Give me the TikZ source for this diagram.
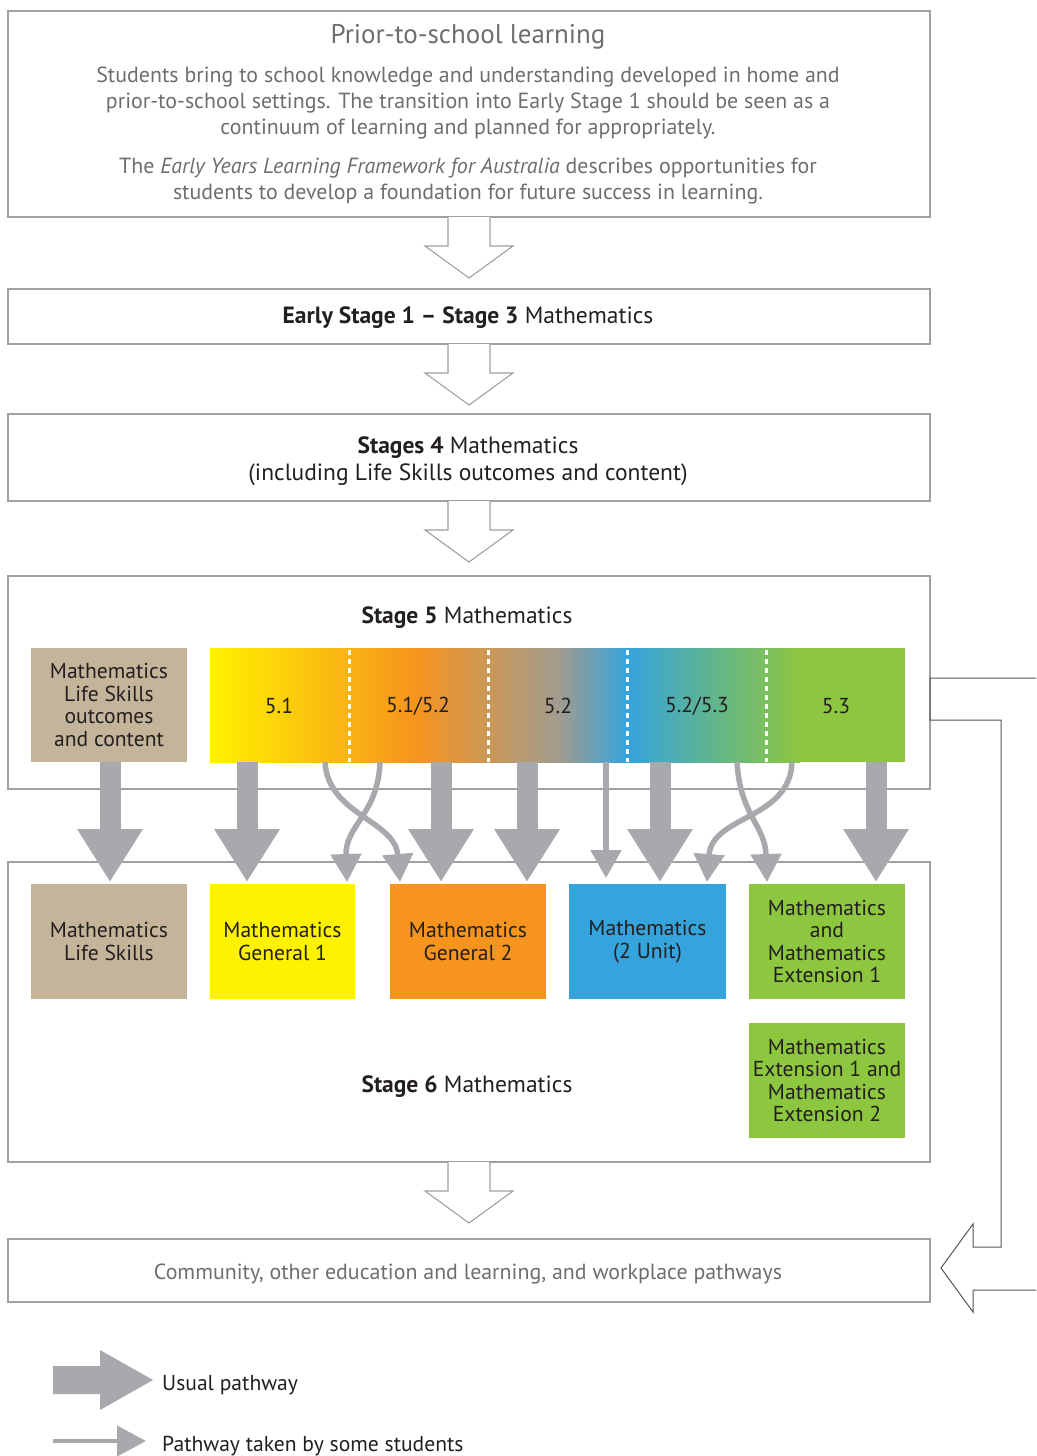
\documentclass[tikz,border=0pt]{standalone}
\usepackage{fontspec}
\setmainfont{PT Sans}
\usetikzlibrary{arrows.meta,calc}
\definecolor{frameGray}{HTML}{A0A0A0}
\definecolor{arrGray}{HTML}{A7A9AC}
\definecolor{txtBlack}{HTML}{231F20}
\definecolor{txtGray}{HTML}{6D6E71}
\definecolor{cTan}{HTML}{C4B59A}
\definecolor{cYellow}{HTML}{FFF200}
\definecolor{cOrange}{HTML}{F7941D}
\definecolor{cMid}{HTML}{A09C90}
\definecolor{cBlue}{HTML}{35A4DC}
\definecolor{cGreen}{HTML}{8DC63F}
\definecolor{outlineDark}{HTML}{555555}
\newcommand\tilefont{\fontsize{21.6}{22.5}\selectfont}
\newcommand\headfont{\fontsize{23.5}{27}\selectfont}
\tikzset{
  frame/.style={draw=frameGray, line width=1.2pt, fill=white, inner sep=0pt, outer sep=0pt, anchor=north west, minimum width=922pt},
  tile/.style={inner sep=0pt, outer sep=0pt, anchor=north west, align=center, font=\tilefont, text=txtBlack},
  lbl/.style={inner sep=0pt, align=center, text=txtBlack},
  big/.style={draw=arrGray, line width=21pt, -{Triangle[width=62pt,length=53pt]}},
  thinarr/.style={draw=arrGray, line width=5.5pt, -{Triangle[width=30pt,length=28pt]}},
  hollow/.style={draw=frameGray, fill=white, line width=1.1pt, line join=miter},
  divider/.style={draw=white, line width=3pt, dash pattern=on 5pt off 4pt},
  hollowdown/.pic={\draw[hollow] (-21,0) -- (-21,29) -- (-44,29) -- (0,61) -- (44,29) -- (21,29) -- (21,0);}
}
\begin{document}
\begin{tikzpicture}[x=1pt,y=-1pt]
\useasboundingbox (0,0) rectangle (1036,1456);

% ---------- frames ----------
\node[frame, minimum height=206pt] (prior) at (8,11) {};
\node[frame, minimum height=55pt]  (early) at (8,289) {};
\node[frame, minimum height=87pt]  (sfour) at (8,414) {};
\node[frame, minimum height=213pt] (sfive) at (8,576) {};
\node[frame, minimum height=300pt] (ssix)  at (8,862) {};
\node[frame, minimum height=63pt]  (comm)  at (8,1239) {};

% ---------- texts in frames ----------
\node[lbl, text=txtGray, font=\fontsize{27}{30}\selectfont] (priorT) at (468,37) {Prior-to-school learning};
\node[lbl, text=txtGray, font=\fontsize{21.9}{26}\selectfont] (priorA) at (468,103)
 {Students bring to school knowledge and understanding developed in home and\\
  prior-to-school settings. The transition into Early Stage 1 should be seen as a\\
  continuum of learning and planned for appropriately.};
\node[lbl, text=txtGray, font=\fontsize{21.9}{26}\selectfont] (priorB) at (468,181)
 {The \textit{Early Years Learning Framework for Australia} describes opportunities for\\
  students to develop a foundation for future success in learning.};
\node[lbl, font=\headfont] (earlyT) at (468,318) {\textbf{Early Stage 1 – Stage 3} Mathematics};
\node[lbl, font=\headfont] (sfourT) at (468,461) {\textbf{Stages 4} Mathematics\\(including Life Skills outcomes and content)};
\node[lbl, font=\headfont] (sfiveT) at (467,618) {\textbf{Stage 5} Mathematics};
\node[lbl, font=\headfont] (ssixT) at (467,1087) {\textbf{Stage 6} Mathematics};
\node[lbl, text=txtGray, font=\fontsize{21.9}{24}\selectfont] (commT) at (468,1274) {Community, other education and learning, and workplace pathways};

% ---------- hollow arrows ----------
\pic at (prior.south) {hollowdown};
\pic at (early.south) {hollowdown};
\pic at (sfour.south) {hollowdown};
\pic at (ssix.south) {hollowdown};

% ---------- Stage 5 tiles ----------
\node[tile, fill=cTan, minimum width=156pt, minimum height=114pt] (lsfive) at (31,648)
 {Mathematics\\Life Skills\\outcomes\\and content};
\shade[left color=cYellow, right color=cOrange] (210,648) rectangle (415,762);
\shade[left color=cOrange, right color=cMid] (414.5,648) rectangle (560,762);
\shade[left color=cMid, right color=cBlue] (559.5,648) rectangle (627,762);
\shade[left color=cBlue, right color=cGreen] (626.5,648) rectangle (800,762);
\fill[cGreen] (799.5,648) rectangle (905,762);
\node[tile, minimum width=695pt, minimum height=114pt] (bar) at (210,648) {};
\draw[divider] (349,650) -- (349,762);
\draw[divider] (488,650) -- (488,762);
\draw[divider] (627,650) -- (627,762);
\draw[divider] (766,650) -- (766,762);
\node[lbl, font=\tilefont] (segA) at (279,706) {5.1};
\node[lbl, font=\tilefont] (segB) at (418,706) {5.1/5.2};
\node[lbl, font=\tilefont] (segC) at (558,706) {5.2};
\node[lbl, font=\tilefont] (segD) at (697,706) {5.2/5.3};
\node[lbl, font=\tilefont] (segE) at (836,706) {5.3};

% ---------- Stage 6 tiles ----------
\node[tile, fill=cTan, minimum width=156pt, minimum height=115pt] (lssix) at (31,884) {Mathematics\\Life Skills};
\node[tile, fill=cYellow, minimum width=145pt, minimum height=115pt] (genA) at (210,884) {Mathematics\\General 1};
\node[tile, fill=cOrange, minimum width=156pt, minimum height=115pt] (genB) at (390,884) {Mathematics\\General 2};
\node[tile, fill=cBlue, minimum width=157pt, minimum height=115pt] (unit) at (569,884) {Mathematics\\(2 Unit)};
\node[tile, fill=cGreen, minimum width=156pt, minimum height=115pt] (extA) at (749,884) {Mathematics\\and\\Mathematics\\Extension 1};
\node[tile, fill=cGreen, minimum width=156pt, minimum height=115pt] (extB) at (749,1023) {Mathematics\\Extension 1 and\\Mathematics\\Extension 2};

% ---------- usual pathways ----------
\draw[big] (lsfive.south -| 110,0) -- ([yshift=2pt]lssix.north -| 110,0);
\draw[big] (bar.south -| 247,0) -- ([yshift=2pt]genA.north -| 247,0);
\draw[big] (bar.south -| 441,0) -- ([yshift=2pt]genB.north -| 441,0);
\draw[big] (bar.south -| 527,0) -- ([yshift=2pt]genB.north -| 527,0);
\draw[big] (bar.south -| 660,0) -- ([yshift=2pt]unit.north -| 660,0);
\draw[big] (bar.south -| 876,0) -- ([yshift=2pt]extA.north -| 876,0);

% ---------- pathways taken by some students ----------
\draw[thinarr] (bar.south -| 325,0) .. controls (328,815) and (395,820) .. ([yshift=2pt]genB.north -| 400,0);
\draw[thinarr] (bar.south -| 380,0) .. controls (378,815) and (345,825) .. ([yshift=2pt]genA.north -| 347,0);
\draw[thinarr] (bar.south -| 606,0) -- ([yshift=6pt]unit.north -| 606,0);
\draw[thinarr] (bar.south -| 737,0) .. controls (740,815) and (765,825) .. ([yshift=2pt]extA.north -| 767,0);
\draw[thinarr] (bar.south -| 792,0) .. controls (790,820) and (712,815) .. ([yshift=2pt]unit.north -| 707,0);

% ---------- right side return arrow ----------
\draw[draw=outlineDark, line width=1pt, line join=miter]
  (1036,678) -- (930,678) -- (930,720) -- (1001,720) -- (1001,1247) -- (973,1247)
  -- (973,1224) -- (941,1268) -- (973,1312) -- (973,1290) -- (1036,1290);

% ---------- legend ----------
\fill[arrGray] (53,1366) -- (100,1366) -- (100,1350) -- (153,1380) -- (100,1410) -- (100,1394) -- (53,1394) -- cycle;
\node[lbl, anchor=west, font=\tilefont] (legAT) at (162,1385) {Usual pathway};
\coordinate (legB0) at (53,1441);
\coordinate (legB1) at (146,1441);
\draw[draw=arrGray, line width=4pt, -{Triangle[width=30pt,length=29pt]}] (legB0) -- (legB1);
\node[lbl, anchor=west, font=\tilefont] (legBT) at (162,1446) {Pathway taken by some students};
\end{tikzpicture}
\end{document}
